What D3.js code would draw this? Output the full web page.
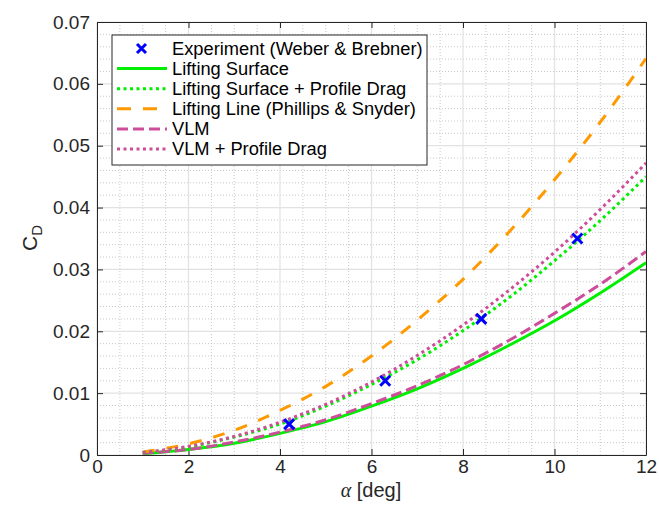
<!DOCTYPE html>
<html><head><meta charset="utf-8">
<script src="https://cdn.jsdelivr.net/npm/d3@7"></script>
<style>body{margin:0;background:#fff;}svg{display:block;font-family:"Liberation Sans",Arial,Helvetica,sans-serif;}</style>
</head><body>
<svg id="chart" width="659" height="508"></svg>
<script>
// ---- data ----
const alpha = [1,2,3,4,5,6,7,8,9,10,11,12];
const liftingSurface = [0.0002,0.0009,0.0019,0.0035,0.0054,0.0079,0.0107,0.0140,0.0177,0.0217,0.0262,0.0311];
const liftingSurfaceProfile = [0.0004,0.0013,0.0029,0.0050,0.0079,0.0114,0.0154,0.0201,0.0254,0.0314,0.0379,0.0450];
const liftingLine = [0.0005,0.0018,0.0040,0.0072,0.0111,0.0160,0.0218,0.0284,0.0360,0.0445,0.0538,0.0641];
const vlm = [0.0003,0.0009,0.0021,0.0037,0.0057,0.0083,0.0112,0.0146,0.0185,0.0229,0.0276,0.0329];
const vlmProfile = [0.0004,0.0014,0.0030,0.0053,0.0082,0.0118,0.0161,0.0210,0.0266,0.0328,0.0397,0.0472];
const expAlpha = [4.2,6.3,8.4,10.5];
const expCD = [0.005,0.012,0.022,0.035];
const xTicks = [0,2,4,6,8,10,12];
const yTicks = [0,0.01,0.02,0.03,0.04,0.05,0.06,0.07];
const legendLabels = ["Experiment (Weber & Brebner)","Lifting Surface","Lifting Surface + Profile Drag","Lifting Line (Phillips & Snyder)","VLM","VLM + Profile Drag"];

// ---- layout ----
const svg = d3.select("#chart");
const L=97, R=646, T=22, B=455;
const x = d3.scaleLinear().domain([0,12]).range([L,R]);
const y = d3.scaleLinear().domain([0,0.07]).range([B,T]);

// minor grid
const g = svg.append("g");
d3.range(0,12.01,0.5).filter(v=>v%2!==0).forEach(v=>{
  g.append("line").attr("x1",x(v)).attr("x2",x(v)).attr("y1",T).attr("y2",B)
   .attr("stroke","#c8c8c8").attr("stroke-width",1).attr("stroke-dasharray","1,2");
});
d3.range(0,71,2).filter(v=>v%10!==0).forEach(v=>{
  g.append("line").attr("x1",L).attr("x2",R).attr("y1",y(v/1000)).attr("y2",y(v/1000))
   .attr("stroke","#c8c8c8").attr("stroke-width",1).attr("stroke-dasharray","1,2");
});
// major grid
xTicks.forEach(v=>g.append("line").attr("x1",x(v)).attr("x2",x(v)).attr("y1",T).attr("y2",B).attr("stroke","#e2e2e2").attr("stroke-width",1.2));
yTicks.forEach(v=>g.append("line").attr("x1",L).attr("x2",R).attr("y1",y(v)).attr("y2",y(v)).attr("stroke","#e2e2e2").attr("stroke-width",1.2));

// axes
const axCol="#262626";
const xAxis = svg.append("g").attr("transform",`translate(0,${B})`)
  .call(d3.axisBottom(x).tickValues(xTicks).tickFormat(d3.format("d")).tickSizeInner(-6).tickSizeOuter(0).tickPadding(5));
const yAxis = svg.append("g").attr("transform",`translate(${L},0)`)
  .call(d3.axisLeft(y).tickValues(yTicks).tickFormat(d=>d===0?"0":d3.format(".2f")(d)).tickSizeInner(-6).tickSizeOuter(0).tickPadding(7));
const xTop = svg.append("g").attr("transform",`translate(0,${T})`)
  .call(d3.axisTop(x).tickValues(xTicks).tickFormat("").tickSizeInner(-6).tickSizeOuter(0));
const yRight = svg.append("g").attr("transform",`translate(${R},0)`)
  .call(d3.axisRight(y).tickValues(yTicks).tickFormat("").tickSizeInner(-6).tickSizeOuter(0));
[xAxis,yAxis,xTop,yRight].forEach(a=>{
  a.selectAll("path").attr("stroke",axCol).attr("stroke-width",1);
  a.selectAll("line").attr("stroke",axCol);
  a.selectAll("text").attr("fill","#262626").style("font-size","19px").attr("font-family","Liberation Sans, Arial, sans-serif");
});

// lines
const line = d3.line().x(d=>x(d[0])).y(d=>y(d[1])).curve(d3.curveMonotoneX);
const series = [
  {v:liftingSurface, c:"#00ee00", dash:null},
  {v:vlm, c:"#cc4d99", dash:"11,5"},
  {v:liftingLine, c:"#ff9900", dash:"12,12"},
  {v:liftingSurfaceProfile, c:"#00ee00", dash:"3,3.5"},
  {v:vlmProfile, c:"#cc4d99", dash:"3,3.5"}
];
svg.append("clipPath").attr("id","clip").append("rect").attr("x",L).attr("y",T).attr("width",R-L).attr("height",B-T);
const lines = svg.append("g").attr("clip-path","url(#clip)");
series.forEach(s=>{
  lines.append("path").datum(alpha.map((a,i)=>[a,s.v[i]]))
    .attr("d",line).attr("fill","none").attr("stroke",s.c).attr("stroke-width",3)
    .attr("stroke-dasharray",s.dash);
});
// experiment markers
const mk = (sel,cx,cy,r)=>{
  sel.append("path").attr("d",`M${cx-r},${cy-r}L${cx+r},${cy+r}M${cx-r},${cy+r}L${cx+r},${cy-r}`)
    .attr("stroke","#0000ff").attr("stroke-width",3).attr("fill","none");
};
expAlpha.forEach((a,i)=>mk(svg,x(a),y(expCD[i]),5));

// axis labels
svg.append("text").attr("x",371).attr("y",497).attr("text-anchor","middle").style("font-size","20px").attr("fill","#262626")
  .html('<tspan font-family="Liberation Serif, Times New Roman, serif" font-style="italic">α</tspan> [deg]');
svg.append("text").attr("transform","translate(37,238) rotate(-90)").attr("text-anchor","middle").style("font-size","21px").attr("fill","#262626")
  .html('C<tspan dy="5" style="font-size:15px">D</tspan>');

// legend
const lg = svg.append("g");
lg.append("rect").attr("x",112).attr("y",35).attr("width",315).attr("height",130).attr("fill","#fff").attr("stroke","#262626").attr("stroke-width",1);
const rowY = i=>48.5+i*20.1;
const lgStyles = [null,
  {c:"#00ee00",dash:null},{c:"#00ee00",dash:"3,3.5"},{c:"#ff9900",dash:"14,12"},{c:"#cc4d99",dash:"11,5"},{c:"#cc4d99",dash:"3,3.5"}];
legendLabels.forEach((t,i)=>{
  if(i===0){ mk(lg,141.5,rowY(i),4.5); }
  else {
    const s=lgStyles[i];
    lg.append("line").attr("x1",117).attr("x2",167).attr("y1",rowY(i)).attr("y2",rowY(i))
      .attr("stroke",s.c).attr("stroke-width",3).attr("stroke-dasharray",s.dash);
  }
  lg.append("text").attr("x",172).attr("y",rowY(i)).attr("dy","0.35em").style("font-size","18.3px").attr("fill","#000").text(t);
});
</script>
</body></html>
